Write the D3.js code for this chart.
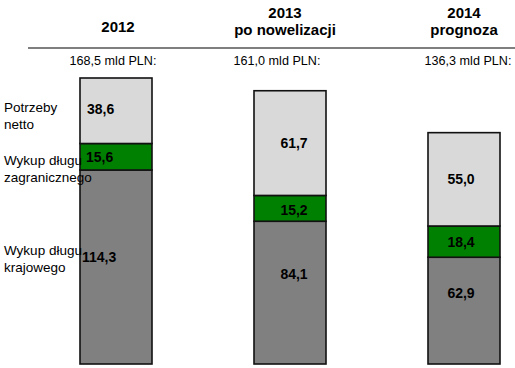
<!DOCTYPE html>
<html>
<head>
<meta charset="utf-8">
<script src="https://cdn.jsdelivr.net/npm/d3@7"></script>
<style>
  html, body { margin: 0; padding: 0; background: #fff; }
  svg { display: block; font-family: "Liberation Sans", Arial, sans-serif; }
</style>
</head>
<body>
<svg id="chart" width="515" height="368"></svg>
<script>
// Borrowing needs (mld PLN), stacked bottom -> top
const years = ["2012", "2013", "2014"];
const headerLines = [["2012"], ["2013", "po nowelizacji"], ["2014", "prognoza"]];
const totals = ["168,5 mld PLN:", "161,0 mld PLN:", "136,3 mld PLN:"];
const seriesNames = ["Wykup długu krajowego", "Wykup długu zagranicznego", "Potrzeby netto"];
const domestic = [114.3, 84.1, 62.9];
const foreign = [15.6, 15.2, 18.4];
const net = [38.6, 61.7, 55.0];
const seriesColors = ["#808080", "#008000", "#d9d9d9"];

const fmt = v => v.toFixed(1).replace(".", ",");

const svg = d3.select("#chart");

const rows = years.map((y, i) => ({ year: y, domestic: domestic[i], foreign: foreign[i], net: net[i] }));
const keys = ["domestic", "foreign", "net"];
const stacked = d3.stack().keys(keys)(rows);

const maxTotal = d3.max(rows, r => r.domestic + r.foreign + r.net);
const y = d3.scaleLinear().domain([0, maxTotal]).range([364, 78]);
const x = d3.scalePoint().domain(years).range([116, 464]);
const barW = 72;

// header
const hdr = svg.append("g").attr("font-weight", "bold").attr("font-size", 15).attr("fill", "#000");
headerLines.forEach((lines, i) => {
  const cx = x(years[i]) + [2, -5, 0][i];
  const base = lines.length === 1 ? 31.5 : 17.5;
  lines.forEach((t, j) => {
    hdr.append("text").attr("x", cx).attr("y", base + j * 17)
      .attr("text-anchor", "middle").text(t);
  });
});
svg.append("line").attr("x1", 28).attr("x2", 515).attr("y1", 48).attr("y2", 48)
  .attr("stroke", "#000").attr("stroke-width", 1.2);

// totals
svg.append("g").selectAll("text").data(totals).join("text")
  .attr("x", (d, i) => x(years[i]) + [-3, -13, 4][i])
  .attr("y", 65).attr("text-anchor", "middle")
  .attr("font-size", 12.6).attr("fill", "#000").text(d => d);

// stacked bars
const layers = svg.append("g").selectAll("g").data(stacked).join("g")
  .attr("fill", (d, i) => seriesColors[i]);
layers.selectAll("rect").data(d => d).join("rect")
  .attr("x", d => x(d.data.year) - barW / 2)
  .attr("width", barW)
  .attr("y", d => y(d[1]))
  .attr("height", d => y(d[0]) - y(d[1]))
  .attr("stroke", "#111").attr("stroke-width", 1.6);

// value labels: nudge within each segment (per bar, per layer)
const labelDy = [[-10, 0, -2], [-19, 2, 0], [-18, 0, 0]];
const labelDx = [[-34, -30, -29], [4, 4, 4], [-3, -3, -3]];
layers.each(function (layer, li) {
  d3.select(this).selectAll("text").data(layer).join("text")
    .attr("x", (d, bi) => x(d.data.year) + labelDx[bi][li])
    .attr("y", (d, bi) => (y(d[0]) + y(d[1])) / 2 + labelDy[bi][li] + 5)
    .attr("text-anchor", (d, bi) => bi === 0 ? "start" : "middle")
    .attr("font-size", 14).attr("font-weight", "bold").attr("fill", "#000")
    .text(d => fmt(d[1] - d[0]));
});

// series names at left
const nameLines = [["Wykup długu", "krajowego"], ["Wykup długu", "zagranicznego"], ["Potrzeby", "netto"]];
const nameBase = [255, 164.5, 111.5];
const names = svg.append("g").attr("font-size", 13.5).attr("fill", "#000");
nameLines.forEach((lines, i) => {
  lines.forEach((t, j) => {
    names.append("text").attr("x", 4).attr("y", nameBase[i] + j * 17).text(t);
  });
});
</script>
</body>
</html>
